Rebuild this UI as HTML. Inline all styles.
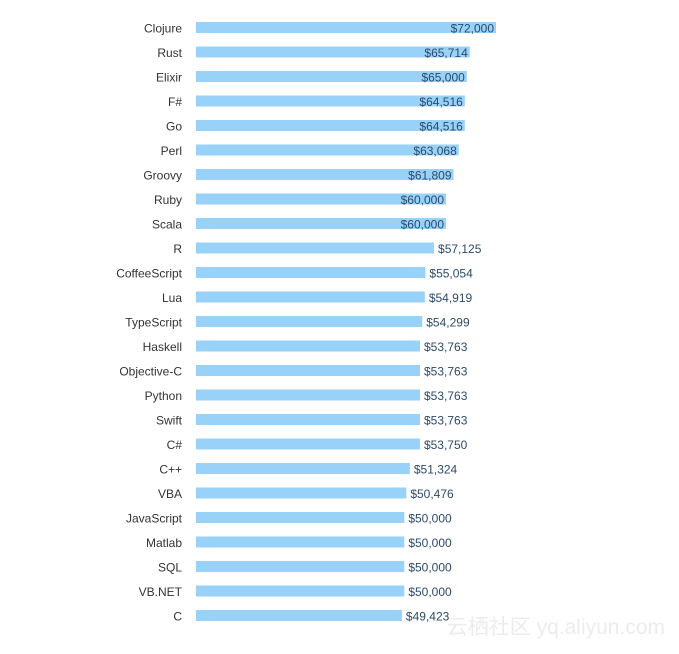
<!DOCTYPE html>
<html><head><meta charset="utf-8"><style>
body{margin:0;background:#fff;width:679px;height:649px;overflow:hidden;font-family:"Liberation Sans",Arial,sans-serif;}
</style></head><body>
<svg id="chart" width="679" height="649" xmlns="http://www.w3.org/2000/svg">
<text x="665" y="634" text-anchor="end" font-size="21" fill="#ececec" font-family="Liberation Sans, Noto Sans CJK SC, sans-serif">云栖社区 yq.aliyun.com</text>
</svg>
<script>
const languages=["Clojure","Rust","Elixir","F#","Go","Perl","Groovy","Ruby","Scala","R","CoffeeScript","Lua","TypeScript","Haskell","Objective-C","Python","Swift","C#","C++","VBA","JavaScript","Matlab","SQL","VB.NET","C"];
const salaries=[72000,65714,65000,64516,64516,63068,61809,60000,60000,57125,55054,54919,54299,53763,53763,53763,53763,53750,51324,50476,50000,50000,50000,50000,49423];
const svg=document.getElementById('chart');
const NS="http://www.w3.org/2000/svg";
const x0=196, maxW=300, maxV=72000;
const xScale=v=>v/maxV*maxW;
const yScale=i=>28+i*24.5;
const fmt=v=>"$"+v.toLocaleString("en-US");
languages.forEach((lang,i)=>{
  const yc=yScale(i), w=xScale(salaries[i]);
  const lab=document.createElementNS(NS,'text');
  
  
  lab.setAttribute('x',182);lab.setAttribute('y',yc+4.5);
  lab.setAttribute('text-anchor','end');lab.setAttribute('font-size','12');lab.setAttribute('fill','#333');
  lab.textContent=lang;svg.appendChild(lab);
  const r=document.createElementNS(NS,'rect');
  
  
  r.setAttribute('x',x0);r.setAttribute('y',yc-6);r.setAttribute('width',w);r.setAttribute('height',11);
  r.setAttribute('fill','#99d2f9');svg.appendChild(r);
  const v=document.createElementNS(NS,'text');
  
  
  const inside=salaries[i]>=60000;
  v.setAttribute('x',inside?x0+w-2:x0+w+4);
  v.setAttribute('y',yc+4.5);
  v.setAttribute('text-anchor',inside?'end':'start');
  v.setAttribute('font-size','12');v.setAttribute('fill','#2d4a6a');
  v.textContent=fmt(salaries[i]);svg.appendChild(v);
});
</script>
</body></html>
